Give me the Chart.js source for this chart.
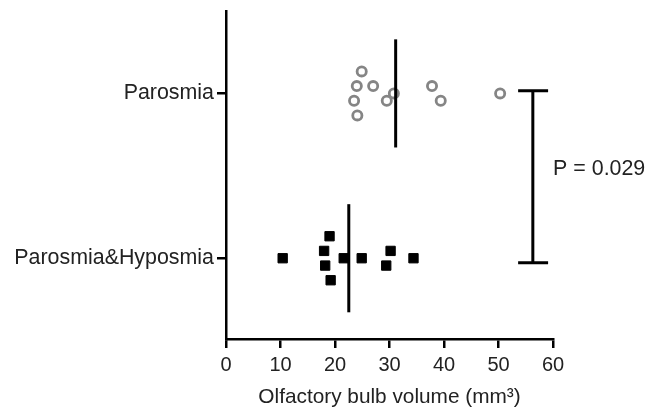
<!DOCTYPE html>
<html>
<head>
<meta charset="utf-8">
<script src="https://cdn.jsdelivr.net/npm/chart.js@4.4.1/dist/chart.umd.min.js"></script>
<style>
    html, body { margin: 0; background: #fff; }
    #wrap { width: 658px; height: 408px; }
</style>
</head>
<body>
<div id="wrap"><canvas id="c"></canvas></div>
<script>
// groups on the y axis: index = y value
const groups = ['Parosmia&Hyposmia', 'Parosmia'];

// olfactory bulb volume (mm3) and swarm row of each point (+ = below the centre)
const parosmiaVol = [24.9, 24.0, 27.0, 23.5, 24.1, 29.5, 30.8, 37.8, 39.4, 50.3];
const parosmiaRow = [-1.5, -0.5, -0.5, 0.5, 1.5, 0.5, 0, -0.5, 0.5, 0];
const hyposmiaVol = [10.4, 19.0, 18.0, 18.2, 19.2, 21.6, 24.9, 30.2, 29.4, 34.4];
const hyposmiaRow = [0, -1.5, -0.5, 0.5, 1.5, 0, 0, -0.5, 0.5, 0];

const xTicks = [0, 10, 20, 30, 40, 50, 60];
const xTitle = 'Olfactory bulb volume (mm³)';
const pLabel = 'P = 0.029';

const ROW_STEP = 0.089;   // swarm spacing in y units
const MEAN_HALF = 0.328;  // half length of the mean line
const FAMILY = '"Liberation Sans", Arial, sans-serif';
const TEXT = '#222';

const mean = a => a.reduce((s, v) => s + v, 0) / a.length;
const swarm = (vals, rows, level) => vals.map((v, i) => ({ x: v, y: level - rows[i] * ROW_STEP }));
const meanLine = (vals, level) => [{ x: mean(vals), y: level - MEAN_HALF }, { x: mean(vals), y: level + MEAN_HALF }];

// significance bracket between the two groups
const bracketPlugin = {
    id: 'bracket',
    afterDatasetsDraw(chart) {
        const { ctx, scales: { x, y } } = chart;
        const xm = x.getPixelForValue(56.3);
        const x0 = x.getPixelForValue(53.6), x1 = x.getPixelForValue(59.1);
        const yt = y.getPixelForValue(1.016), yb = y.getPixelForValue(-0.027);
        ctx.save();
        ctx.strokeStyle = '#000';
        ctx.lineWidth = 3;
        ctx.beginPath();
        ctx.moveTo(x0, yt); ctx.lineTo(x1, yt);
        ctx.moveTo(xm, yt); ctx.lineTo(xm, yb);
        ctx.moveTo(x0, yb); ctx.lineTo(x1, yb);
        ctx.stroke();
        ctx.fillStyle = TEXT;
        ctx.font = `21.4px ${FAMILY}`;
        ctx.textAlign = 'left';
        ctx.textBaseline = 'middle';
        ctx.fillText(pLabel, x1 + 5, y.getPixelForValue(0.541));
        ctx.restore();
    }
};

new Chart(document.getElementById('c'), {
    type: 'scatter',
    data: {
        datasets: [
            {
                data: meanLine(parosmiaVol, 1),
                type: 'line', showLine: true,
                borderColor: '#000', borderWidth: 3, pointRadius: 0
            },
            {
                data: meanLine(hyposmiaVol, 0),
                type: 'line', showLine: true,
                borderColor: '#000', borderWidth: 3, pointRadius: 0
            },
            {
                label: groups[1],
                data: swarm(parosmiaVol, parosmiaRow, 1),
                pointStyle: 'circle', pointRadius: 4.6,
                borderColor: '#858585', borderWidth: 2.8, backgroundColor: '#fff'
            },
            {
                label: groups[0],
                data: swarm(hyposmiaVol, hyposmiaRow, 0),
                pointStyle: 'rect', pointRadius: 6.6,
                borderColor: '#000', borderWidth: 1, backgroundColor: '#000'
            }
        ]
    },
    options: {
        responsive: true,
        maintainAspectRatio: false,
        animation: false,
        layout: { padding: { top: 11, right: 105, left: 0, bottom: 0 } },
        plugins: { legend: { display: false }, tooltip: { enabled: false } },
        scales: {
            x: {
                type: 'linear', min: 0, max: 60,
                afterBuildTicks: s => { s.ticks = xTicks.map(v => ({ value: v })); },
                afterFit: s => { s.height = 69; },
                ticks: { font: { family: FAMILY, size: 20 }, color: TEXT, padding: 5 },
                grid: { drawOnChartArea: false, tickLength: 9, color: '#000', lineWidth: 2.5 },
                border: { color: '#000', width: 2.5 },
                title: {
                    display: true, text: xTitle, color: TEXT,
                    font: { family: FAMILY, size: 20.8, lineHeight: 1 }, padding: { top: 0, bottom: 0 }
                }
            },
            y: {
                type: 'linear', min: -0.49, max: 1.5,
                afterBuildTicks: s => { s.ticks = groups.map((g, i) => ({ value: i })); },
                afterFit: s => { s.width = 226; s.paddingTop = 0; s.paddingBottom = 0; },
                ticks: { font: { family: FAMILY, size: 21.4 }, color: TEXT, padding: 3, callback: v => groups[v] },
                grid: { drawOnChartArea: false, tickLength: 9, color: '#000', lineWidth: 2.5 },
                border: { color: '#000', width: 2.5 }
            }
        }
    },
    plugins: [bracketPlugin]
});
</script>
</body>
</html>
